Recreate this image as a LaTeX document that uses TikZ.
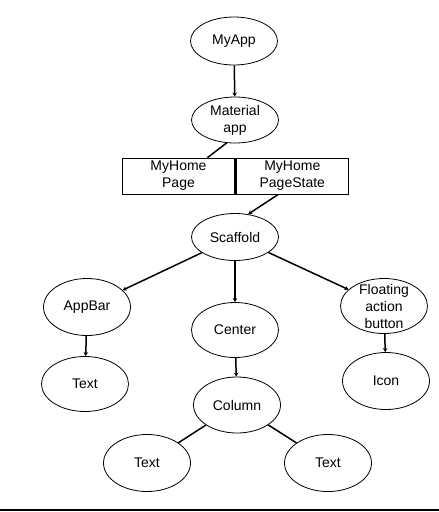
\documentclass[tikz,border=0pt]{standalone}
\usepackage{fontspec}
\setmainfont{Liberation Sans}
\usetikzlibrary{positioning,shapes.geometric,arrows.meta}

\begin{document}
\begin{tikzpicture}[x=1pt,y=-1pt,
    wgt/.style={ellipse,draw,line width=0.8pt,minimum width=87pt,minimum height=55pt,
      inner sep=0pt,align=center,font=\fontsize{14}{17}\selectfont},
    wbox/.style={rectangle,draw,line width=0.8pt,minimum width=113pt,minimum height=36pt,
      inner sep=0pt,align=center,font=\fontsize{14}{17}\selectfont},
    link/.style={line width=1.5pt},
    arr/.style={link,-{Stealth[length=4pt,width=4.5pt]}},
  ]
  \useasboundingbox (0,0) rectangle (439,512);
  \node [wgt, minimum height=48pt] (myapp) at (234,41) {MyApp};
  \node [wgt, minimum height=46pt] (matapp) at (235,120) {Material\\app};
  \node [wbox] (homepage) at (178.5,176) {MyHome\\Page};
  \node [wbox, right=0pt of homepage] (homestate) {MyHome\\PageState};
  \node [wgt, minimum height=47pt] (scaffold) at (235,237) {Scaffold};
  \node [wgt, minimum height=57pt] (appbar) at (87,307) {AppBar};
  \node [wgt] (center) at (235,330) {Center};
  \node [wgt, inner ysep=-4.5pt] (fab) at (384,306) {Floating\\action\\button};
  \node [wgt] (bartext) at (85,384) {Text};
  \node [wgt, minimum height=56pt] (column) at (237,405) {Column};
  \node [wgt, minimum height=57pt] (icon) at (386,381) {Icon};
  \node [wgt, minimum height=57pt] (coltextl) at (147,463) {Text};
  \node [wgt, minimum height=57pt] (coltextr) at (328,463) {Text};
  % divider between the two boxes
  \draw [line width=2.5pt] (homepage.north east) -- (homepage.south east);
  % connectors
  \draw [arr] (myapp) -- (matapp);
  \draw [link] (matapp.250) -- ([xshift=29pt]homepage.north);
  \draw [arr] ([xshift=-14pt]homestate.south) -- (scaffold.60);
  \draw [arr] (scaffold) -- (appbar);
  \draw [arr] (scaffold) -- (center);
  \draw [arr] (scaffold) -- (fab);
  \draw [arr] (appbar) -- (bartext);
  \draw [arr] (center) -- (column);
  \draw [arr] (fab) -- (icon);
  \draw [link] (column) -- (coltextl);
  \draw [link] (column) -- (coltextr);
  % rule at the foot
  \draw [line width=1.5pt] (0,510) -- (439,510);
\end{tikzpicture}
\end{document}
